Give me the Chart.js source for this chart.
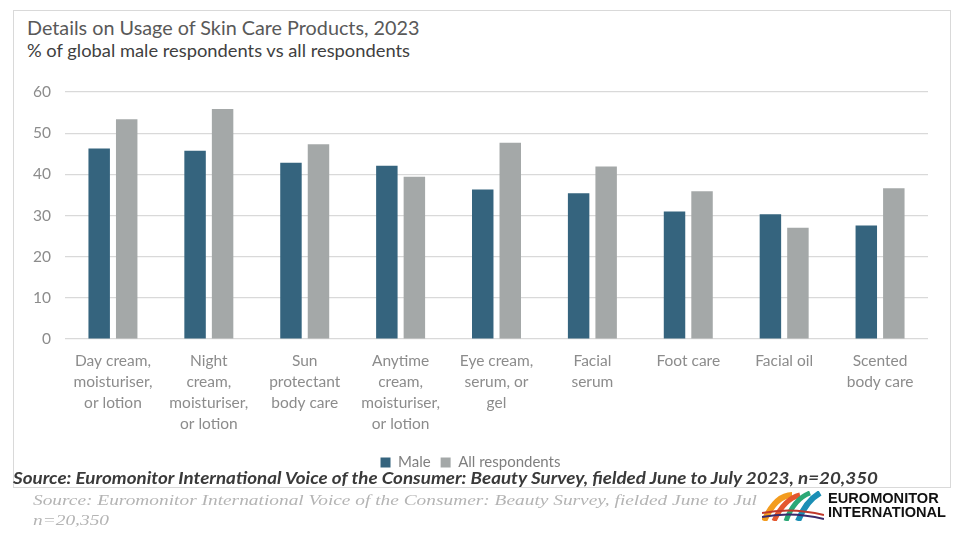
<!DOCTYPE html>
<html>
<head>
<meta charset="utf-8">
<script src="https://cdn.jsdelivr.net/npm/chart.js@4"></script>
<style>
  html, body { margin:0; padding:0; background:#fff; width:960px; height:540px; overflow:hidden; }
  #frame { position:absolute; left:13px; top:10px; width:938px; height:478px; border:1px solid #d9d9d9; box-sizing:border-box; }
  #title { position:absolute; left:27px; top:15px; font-family:Lato, sans-serif; font-size:19.8px; color:#595959; white-space:nowrap; }
  #subtitle { position:absolute; left:27px; top:39px; font-family:Lato, sans-serif; font-size:18px; color:#404040; white-space:nowrap; }
  #wrap { position:absolute; left:13px; top:60px; width:938px; height:420px; }
  #src1 { position:absolute; left:13px; top:467px; font-family:Lato, sans-serif; font-style:italic; font-weight:bold; font-size:17px; color:#3a3a3a; white-space:nowrap; transform-origin:left top; }
  #src2 { position:absolute; left:33px; top:490px; font-family:"Liberation Serif", serif; font-style:italic; font-size:15px; color:#b4b4b4; white-space:nowrap; transform-origin:left top; line-height:20px; }
  #logo { position:absolute; left:762px; top:491px; width:62px; height:30px; }
  #logotext { position:absolute; left:828px; top:491px; font-family:"Liberation Sans", Arial, sans-serif; font-weight:bold; font-size:15px; line-height:14px; color:#111; white-space:nowrap; transform-origin:left top; }
</style>
</head>
<body>
<div id="frame"></div>
<div id="title">Details on Usage of Skin Care Products, 2023</div>
<div id="subtitle">% of global male respondents vs all respondents</div>
<div id="wrap"><canvas id="c"></canvas></div>
<div id="src1">Source: Euromonitor International Voice of the Consumer: Beauty Survey, fielded June to July 2023, n=20,350</div>
<div id="src2">Source: Euromonitor International Voice of the Consumer: Beauty Survey, fielded June to Jul<br>n=20,350</div>
<svg id="logo" viewBox="0 0 62 30">
  <path d="M2 30 Q14 4 30 4" stroke="#f39c1f" stroke-width="6" fill="none"/>
  <path d="M12 30 Q22 8 38 4" stroke="#e4572e" stroke-width="5" fill="none"/>
  <path d="M24 30 Q32 8 48 2" stroke="#2aa876" stroke-width="5" fill="none"/>
  <path d="M36 30 Q44 10 58 2" stroke="#1b8fb5" stroke-width="6" fill="none"/>
  <path d="M0 22 Q30 16 62 24" stroke="#c0392b" stroke-width="2" fill="none"/>
  <path d="M0 26 Q30 20 62 28" stroke="#3b2b6b" stroke-width="2" fill="none"/>
</svg>
<div id="logotext">EUROMONITOR<br>INTERNATIONAL</div>
<script>
const categories = [
  ["Day cream,", "moisturiser,", "or lotion"],
  ["Night", "cream,", "moisturiser,", "or lotion"],
  ["Sun", "protectant", "body care"],
  ["Anytime", "cream,", "moisturiser,", "or lotion"],
  ["Eye cream,", "serum, or", "gel"],
  ["Facial", "serum"],
  ["Foot care"],
  ["Facial oil"],
  ["Scented", "body care"]
];
const maleValues = [46.3, 45.7, 42.8, 42.1, 36.3, 35.4, 31.0, 30.3, 27.6];
const allValues  = [53.4, 55.9, 47.3, 39.4, 47.7, 41.9, 35.9, 27.0, 36.6];
const seriesNames = ["Male", "All respondents"];
const yTicks = [0, 10, 20, 30, 40, 50, 60];

function fitWidth(id, target) {
  const el = document.getElementById(id);
  const w = el.getBoundingClientRect().width;
  el.style.transform = 'scaleX(' + (target / w) + ')';
}
fitWidth('src1', 865);
fitWidth('logotext', 118);
fitWidth('subtitle', 383);
(function(){
  const el = document.getElementById('src2');
  const range = document.createRange();
  range.selectNodeContents(el.firstChild);
  const w = range.getBoundingClientRect().width;
  el.style.transform = 'scaleX(' + (724 / w) + ')';
})();
document.getElementById('subtitle').style.transformOrigin = 'left top';

Chart.defaults.font.family = "Lato, sans-serif";
new Chart(document.getElementById('c'), {
  type: 'bar',
  data: {
    labels: categories,
    datasets: [
      { label: seriesNames[0], data: maleValues, backgroundColor: '#35647e', categoryPercentage: 0.574, barPercentage: 0.78 },
      { label: seriesNames[1], data: allValues, backgroundColor: '#a4a8a8', categoryPercentage: 0.574, barPercentage: 0.78 }
    ]
  },
  options: {
    responsive: true,
    maintainAspectRatio: false,
    animation: false,
    layout: { padding: { top: 32, right: 23, left: 0, bottom: 0 } },
    plugins: {
      legend: {
        position: 'bottom',
        labels: { boxWidth: 10, boxHeight: 10, color: '#7f7f7f', font: { size: 15 }, padding: 10 }
      },
      tooltip: { enabled: false }
    },
    scales: {
      x: {
        grid: { display: false },
        border: { display: false },
        ticks: { color: '#8c8c8c', font: { size: 15.5, lineHeight: 1.36 }, padding: 3, maxRotation: 0, autoSkip: false },
        afterFit: s => { s.height = 106; }
      },
      y: {
        min: 0, max: 60,
        afterBuildTicks: s => { s.ticks = yTicks.map(v => ({ value: v })); },
        grid: { color: '#d9d9d9', lineWidth: 1.2, drawTicks: false },
        border: { display: false },
        ticks: { color: '#8c8c8c', font: { size: 15.5 }, padding: 14 },
        afterFit: s => { s.width = 52; }
      }
    }
  }
});
</script>
</body>
</html>
